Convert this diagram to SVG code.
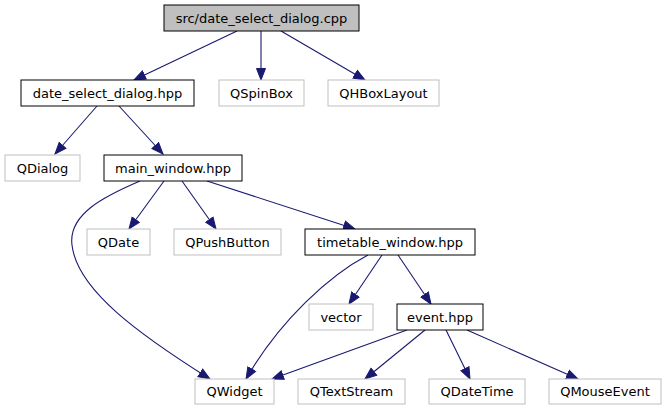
<svg xmlns="http://www.w3.org/2000/svg" width="667" height="411" viewBox="0 0 667 411">
<style>
text{font-family:"DejaVu Sans",sans-serif;font-size:13px;fill:#000;text-anchor:middle}
.n rect{fill:#fff;stroke:#000;stroke-width:1}
.r rect{fill:#bfbfbf;stroke:#000;stroke-width:1}
.x rect{fill:#fff;stroke:#bfbfbf;stroke-width:1}
.e path{fill:none;stroke:#191970;stroke-width:1.1}
</style>
<defs>
<marker id="a" markerUnits="userSpaceOnUse" markerWidth="14" markerHeight="12" refX="12" refY="5" orient="auto" viewBox="0 0 14 10">
<path d="M0.5,0.5 L12,5 L0.5,9.5 z" fill="#191970" stroke="#191970" stroke-width="1"/>
</marker>
</defs>
<rect width="667" height="411" fill="#fff"/>
<g id="edges" class="e">
<path marker-end="url(#a)" d="M237,31 L134,80"/>
<path marker-end="url(#a)" d="M261,31 L261,80"/>
<path marker-end="url(#a)" d="M281,31 L365,80"/>
<path marker-end="url(#a)" d="M97,106 L55,154"/>
<path marker-end="url(#a)" d="M119,106 L163,154"/>
<path marker-end="url(#a)" d="M140,181 C105,196 68,214 72,245 C77,290 140,335 210,379"/>
<path marker-end="url(#a)" d="M164,181 L129,229"/>
<path marker-end="url(#a)" d="M182,181 L216,229"/>
<path marker-end="url(#a)" d="M207,181 L355,229"/>
<path marker-end="url(#a)" d="M368,255 C330,275 280,320 246,379"/>
<path marker-end="url(#a)" d="M382,255 L349,304"/>
<path marker-end="url(#a)" d="M398,255 L431,304"/>
<path marker-end="url(#a)" d="M407,330 L272,379"/>
<path marker-end="url(#a)" d="M425,330 L365,379"/>
<path marker-end="url(#a)" d="M446,330 L470,379"/>
<path marker-end="url(#a)" d="M467,330 L578,379"/>
</g>
<g id="root" class="r"><rect x="164" y="5" width="195" height="26"/><text x="261.5" y="22.5">src/date_select_dialog.cpp</text></g>
<g id="date_select_dialog_hpp" class="n"><rect x="21" y="80" width="173" height="26"/><text x="107.5" y="97.5">date_select_dialog.hpp</text></g>
<g id="QSpinBox" class="x"><rect x="219" y="80" width="85" height="26"/><text x="261.5" y="97.5">QSpinBox</text></g>
<g id="QHBoxLayout" class="x"><rect x="328" y="80" width="111" height="26"/><text x="383.5" y="97.5">QHBoxLayout</text></g>
<g id="QDialog" class="x"><rect x="5" y="155" width="75" height="26"/><text x="42.5" y="172.5">QDialog</text></g>
<g id="main_window_hpp" class="n"><rect x="104" y="155" width="138" height="26"/><text x="173" y="172.5">main_window.hpp</text></g>
<g id="QDate" class="x"><rect x="87" y="229" width="63" height="26"/><text x="118.5" y="246.5">QDate</text></g>
<g id="QPushButton" class="x"><rect x="174" y="229" width="107" height="26"/><text x="227.5" y="246.5">QPushButton</text></g>
<g id="timetable_window_hpp" class="n"><rect x="305" y="229" width="170" height="26"/><text x="390" y="246.5">timetable_window.hpp</text></g>
<g id="vector" class="x"><rect x="309" y="304" width="64" height="26"/><text x="341" y="321.5">vector</text></g>
<g id="event_hpp" class="n"><rect x="397" y="304" width="86" height="26"/><text x="440" y="321.5">event.hpp</text></g>
<g id="QWidget" class="x"><rect x="195" y="379" width="79" height="25"/><text x="234.5" y="396">QWidget</text></g>
<g id="QTextStream" class="x"><rect x="298" y="379" width="107" height="25"/><text x="351.5" y="396">QTextStream</text></g>
<g id="QDateTime" class="x"><rect x="429" y="379" width="96" height="25"/><text x="477" y="396">QDateTime</text></g>
<g id="QMouseEvent" class="x"><rect x="549" y="379" width="112" height="25"/><text x="605" y="396">QMouseEvent</text></g>
</svg>
